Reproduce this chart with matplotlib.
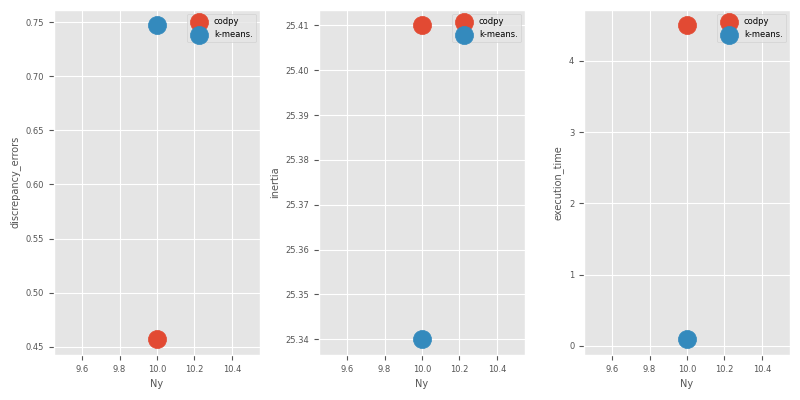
import matplotlib
matplotlib.use("Agg")
import matplotlib.pyplot as plt

plt.style.use("ggplot")

Ny = [10.0]
methods = ["codpy", "k-means."]
discrepancy_errors = {"codpy": [0.457], "k-means.": [0.747]}
inertia = {"codpy": [25.41], "k-means.": [25.34]}
execution_time = {"codpy": [4.5], "k-means.": [0.09]}

metrics = [("discrepancy_errors", discrepancy_errors),
           ("inertia", inertia),
           ("execution_time", execution_time)]

fig, axes = plt.subplots(1, 3, figsize=(8, 4), dpi=100)
for ax, (name, data) in zip(axes, metrics):
    for m in methods:
        ax.scatter(Ny, data[m], s=170, label=m)
    ax.set_xlabel("Ny", fontsize=7)
    ax.set_ylabel(name, fontsize=7)
    ax.tick_params(labelsize=6)
    ax.legend(fontsize=6, loc="upper right", labelspacing=0.45)
fig.subplots_adjust(left=0.0675, right=0.9875, top=0.976, bottom=0.1125,
                    wspace=0.2864)
fig.savefig("out.png")
